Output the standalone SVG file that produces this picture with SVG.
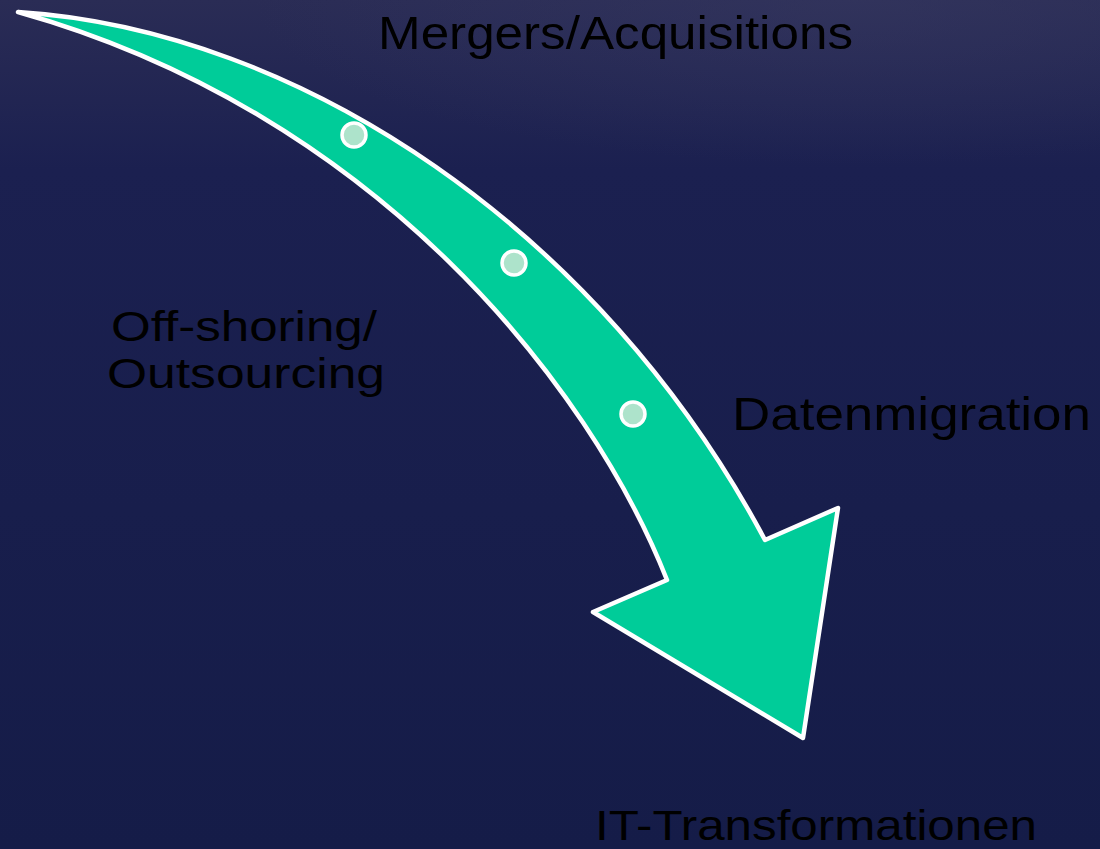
<svg xmlns="http://www.w3.org/2000/svg" width="1100" height="849" viewBox="0 0 1100 849">
  <defs>
    <linearGradient id="bg" x1="0" y1="0" x2="0" y2="1">
      <stop offset="0" stop-color="#2a2c55"/>
      <stop offset="0.2" stop-color="#1b2050"/>
      <stop offset="1" stop-color="#151c48"/>
    </linearGradient>
    <radialGradient id="glow" cx="0.78" cy="0" r="0.55">
      <stop offset="0" stop-color="#3a3c64" stop-opacity="0.45"/>
      <stop offset="1" stop-color="#3a3c64" stop-opacity="0"/>
    </radialGradient>
    <style>
      .lbl { font-family: "Liberation Sans", "DejaVu Sans", sans-serif; font-size: 46px; fill: #000000; }
      .sm { font-size: 43px; }
      .arrow { fill: #00cc99; stroke: #ffffff; stroke-width: 4.5; stroke-linejoin: round; }
      .dot { fill: #ade3cb; stroke: #ffffff; stroke-width: 3.5; }
    </style>
  </defs>
  <rect x="0" y="0" width="1100" height="849" fill="url(#bg)"/>
  <rect x="0" y="0" width="1100" height="300" fill="url(#glow)"/>

  <g id="connectors">
    <path id="trend-arrow" class="arrow" d="M 18 12 C 300 30, 600 230, 765 540 L 838 508 L 803 738 L 593 612 L 667 580 C 590 385, 375 112, 18 12 Z"/>
  </g>

  <g id="milestone-1"><circle class="dot" cx="354" cy="135" r="12"/></g>
  <g id="milestone-2"><circle class="dot" cx="514" cy="263" r="12"/></g>
  <g id="milestone-3"><circle class="dot" cx="633" cy="414" r="12"/></g>

  <g id="label-mergers">
    <text class="lbl" x="378" y="49" textLength="475" lengthAdjust="spacingAndGlyphs">Mergers/Acquisitions</text>
  </g>
  <g id="label-offshoring">
    <text class="lbl sm" x="111" y="341" textLength="266" lengthAdjust="spacingAndGlyphs">Off-shoring/</text>
    <text class="lbl sm" x="107" y="388" textLength="278" lengthAdjust="spacingAndGlyphs">Outsourcing</text>
  </g>
  <g id="label-datenmigration">
    <text class="lbl" x="732" y="430" textLength="359" lengthAdjust="spacingAndGlyphs">Datenmigration</text>
  </g>
  <g id="label-it">
    <text class="lbl sm" x="595" y="840" textLength="442" lengthAdjust="spacingAndGlyphs">IT-Transformationen</text>
  </g>
</svg>
